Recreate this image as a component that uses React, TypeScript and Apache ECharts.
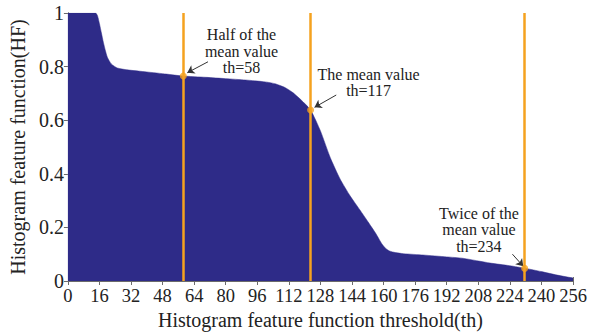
import React, { useEffect, useRef } from "react";
import * as echarts from "echarts";

const th = [0, 14, 15, 16, 17, 18, 19, 20, 22, 25, 30, 40, 50, 58, 70, 80, 90, 100, 105, 110, 114, 118, 123, 128, 133, 138, 143, 148, 152, 156, 159, 161, 163, 166, 170, 180, 192, 200, 214, 224, 232, 240, 248, 256];
const hf = [1.0, 1.0, 0.99, 0.96, 0.925, 0.89, 0.86, 0.835, 0.81, 0.795, 0.788, 0.78, 0.772, 0.765, 0.76, 0.755, 0.75, 0.743, 0.736, 0.722, 0.703, 0.677, 0.638, 0.56, 0.46, 0.38, 0.318, 0.265, 0.222, 0.178, 0.14, 0.122, 0.112, 0.106, 0.102, 0.097, 0.09, 0.085, 0.067, 0.057, 0.047, 0.035, 0.022, 0.011];

// Threshold markers (positions as drawn) and HF at those points
const markerTh = [58.5, 123, 231.5];
const markerHF = [0.765, 0.638, 0.047];
const markerText = [
  "Half of the\nmean value\nth=58",
  "The mean value\nth=117",
  "Twice of the\nmean value\nth=234",
];

const xTicks = { min: 0, max: 256, interval: 16 };
const yTicks = { min: 0, max: 1, interval: 0.2 };

const FONT = "Liberation Serif";

export default function App() {
  const ref = useRef<HTMLDivElement>(null);
  useEffect(() => {
    if (!ref.current) return;
    const chart = echarts.init(ref.current, undefined, { renderer: "svg" });
    const frameColor = "#6b6b6b";
    const areaData = th.map((t, i) => [t, hf[i]]);
    const dots = markerTh.map((t, i) => [t, markerHF[i]]);
    chart.setOption({
      animation: false,
      backgroundColor: "#ffffff",
      textStyle: { fontFamily: FONT },
      grid: { left: 66, right: 22, top: 13, bottom: 55, containLabel: false },
      xAxis: [
        {
          type: "value",
          ...xTicks,
          position: "bottom",
          axisLine: { show: true, lineStyle: { color: frameColor, width: 1 } },
          axisTick: { show: true, inside: true, length: 4, lineStyle: { color: frameColor } },
          axisLabel: { fontSize: 18.5, color: "#222", fontFamily: FONT, margin: 5, showMaxLabel: true, showMinLabel: true, hideOverlap: false },
          splitLine: { show: false },
          name: "Histogram feature function threshold(th)",
          nameLocation: "middle",
          nameGap: 29,
          nameTextStyle: { fontSize: 20, color: "#222", fontFamily: FONT },
        },
        {
          type: "value",
          ...xTicks,
          position: "top",
          axisLine: { show: true, lineStyle: { color: frameColor, width: 1 } },
          axisTick: { show: true, inside: true, length: 4, lineStyle: { color: frameColor } },
          axisLabel: { show: false },
          splitLine: { show: false },
        },
      ],
      yAxis: [
        {
          type: "value",
          ...yTicks,
          position: "left",
          axisLine: { show: true, lineStyle: { color: frameColor, width: 1 } },
          axisTick: { show: true, inside: true, length: 4, lineStyle: { color: frameColor } },
          axisLabel: { fontSize: 20, color: "#222", fontFamily: FONT, margin: 4 },
          splitLine: { show: false },
          name: "Histogram feature function(HF)",
          nameLocation: "middle",
          nameGap: 38,
          nameTextStyle: { fontSize: 20, color: "#222", fontFamily: FONT },
        },
        {
          type: "value",
          ...yTicks,
          position: "right",
          axisLine: { show: true, lineStyle: { color: frameColor, width: 1 } },
          axisTick: { show: true, inside: true, length: 4, lineStyle: { color: frameColor } },
          axisLabel: { show: false },
          splitLine: { show: false },
        },
      ],
      series: [
        {
          type: "line",
          data: areaData,
          symbol: "none",
          smooth: 0.2,
          lineStyle: { width: 0.5, color: "#2e2b88" },
          areaStyle: { color: "#2e2b88", opacity: 1 },
          z: 2,
        },
        {
          type: "scatter",
          data: dots,
          symbol: "circle",
          symbolSize: 7,
          itemStyle: { color: "#f5a21f" },
          z: 5,
          markLine: {
            silent: true,
            symbol: "none",
            label: { show: false },
            lineStyle: { color: "#f5a21f", width: 2.5, type: "solid" },
            data: markerTh.map((t) => ({ xAxis: t })),
          },
        },
        {
          type: "scatter",
          data: [],
          z: 6,
          markLine: {
            silent: true,
            symbol: ["none", "arrow"],
            symbolSize: 7,
            label: { show: false },
            lineStyle: { color: "#333", width: 1, type: "solid" },
            data: [
              [{ coord: [71, 0.818] }, { coord: [60.5, 0.777] }],
              [{ coord: [136, 0.694] }, { coord: [125, 0.648] }],
              [{ coord: [225.3, 0.1] }, { coord: [230.8, 0.055] }],
            ],
          },
          markPoint: {
            silent: true,
            symbol: "circle",
            symbolSize: 0,
            label: {
              show: true,
              position: "inside",
              fontSize: 16,
              lineHeight: 16.5,
              color: "#222",
              fontFamily: FONT,
              align: "center",
              verticalAlign: "middle",
            },
            data: [
              { coord: [88, 0.858], label: { formatter: markerText[0] } },
              { coord: [152.4, 0.741], label: { formatter: markerText[1] } },
              { coord: [208.3, 0.191], label: { formatter: markerText[2] } },
            ],
          },
        },
      ],
    });
    return () => chart.dispose();
  }, []);
  return <div ref={ref} style={{ width: 595, height: 336, position: "absolute", left: 0, top: 0 }} />;
}
